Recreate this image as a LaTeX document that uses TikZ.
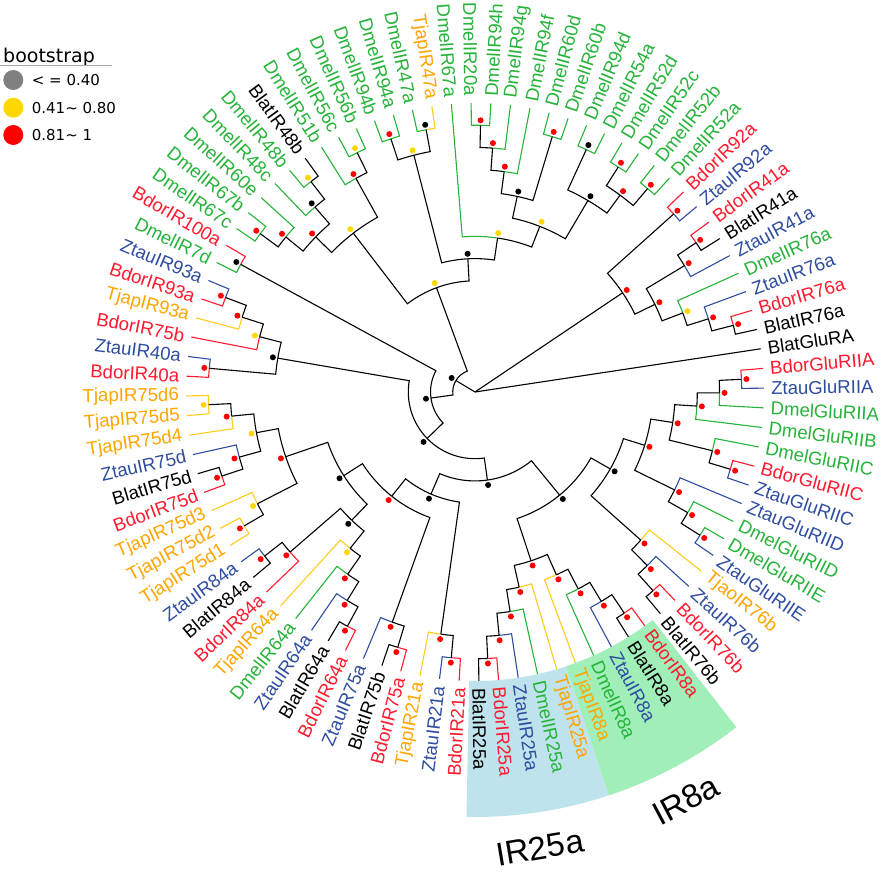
\documentclass[tikz,border=0pt]{standalone}
\usepackage{fontspec}
\setmainfont{Liberation Sans}
\newfontfamily\legfont{DejaVu Sans}
\definecolor{blat}{HTML}{000000}
\definecolor{blatL}{HTML}{000000}
\definecolor{bdor}{HTML}{FF1A2E}
\definecolor{bdorL}{HTML}{FF1A2E}
\definecolor{ztau}{HTML}{2F4DA0}
\definecolor{ztauL}{HTML}{2F4DA0}
\definecolor{dmel}{HTML}{26B33A}
\definecolor{dmelL}{HTML}{26B33A}
\definecolor{tjap}{HTML}{FFA500}
\definecolor{tjapL}{HTML}{FFCC1A}
\definecolor{bslo}{HTML}{000000}
\definecolor{bsmid}{HTML}{FFD700}
\definecolor{bshi}{HTML}{FF0000}
\definecolor{hlblue}{HTML}{BEE3EC}
\definecolor{hlgreen}{HTML}{A0EEB8}
\tikzset{
  edge/.style={line width=1.1pt},
  lbl/.style={inner sep=0pt,font=\fontsize{18.6}{20}\selectfont},
  big/.style={inner sep=0pt,anchor=base,font=\fontsize{33}{36}\selectfont},
  legtxt/.style={inner sep=0pt,font=\legfont\fontsize{15}{17}\selectfont},
}
% leaf: name, index, species
\newcommand\leaf[3]{%
  \pgfmathsetmacro\lfang{8.6+3.913*#2}%
  \expandafter\xdef\csname ang@#1\endcsname{\lfang}%
  \expandafter\xdef\csname rad@#1\endcsname{289}%
  \expandafter\xdef\csname lc@#1\endcsname{#3L}%
  \coordinate (#1) at (\lfang:289);
  \pgfmathtruncatemacro\lfflip{and(\lfang>90,\lfang<270)}%
  \ifnum\lfflip=1
    \node[lbl,text=#3,anchor=east,rotate=\lfang-180] (lab-#1) at (\lfang:296) {#1};
  \else
    \node[lbl,text=#3,anchor=west,rotate=\lfang] (lab-#1) at (\lfang:296) {#1};
  \fi
}
% parent, child
\newcommand\branch[2]{%
  \edef\brcol{\csname lc@#2\endcsname}%
  \draw[edge,color=\brcol] (#1) arc[start angle=\csname ang@#1\endcsname,
    end angle=\csname ang@#2\endcsname, radius=\csname rad@#1\endcsname] -- (#2);
}
% clade: name, height, child, child, bootstrap colour
\newcommand\clade[5]{%
  \pgfmathsetmacro\clang{(\csname ang@#3\endcsname+\csname ang@#4\endcsname)/2}%
  \pgfmathsetmacro\clrad{289-22.23*#2}%
  \pgfmathsetmacro\cldot{\clrad+5}%
  \expandafter\xdef\csname ang@#1\endcsname{\clang}%
  \expandafter\xdef\csname rad@#1\endcsname{\clrad}%
  \expandafter\xdef\csname lc@#1\endcsname{black}%
  \coordinate (#1) at (\clang:\clrad);
  \branch{#1}{#3}\branch{#1}{#4}%
  \fill[#5] (\clang:\cldot) circle (3);
}
\begin{document}
\begin{tikzpicture}[x=1pt,y=1pt]
\useasboundingbox (-475,-480) rectangle (411,392);

% highlighted clades
\fill[hlblue] (268.85:289) arc[start angle=268.85,end angle=288.35,radius=289]
  -- (288.35:425) arc[start angle=288.35,end angle=268.85,radius=425] -- cycle;
\fill[hlgreen] (288.35:289) arc[start angle=288.35,end angle=307.95,radius=289]
  -- (307.95:425) arc[start angle=307.95,end angle=288.35,radius=425] -- cycle;
\node[big,rotate=9.5] (lab25) at (66.7,-467.2) {IR25a};
\node[big,rotate=28] (lab8) at (215.8,-418) {IR8a};

\foreach \n/\s [count=\i from 0] in {BlatGluRA/blat,BlatIR76a/blat,BdorIR76a/bdor,
  ZtauIR76a/ztau,DmelIR76a/dmel,ZtauIR41a/ztau,BlatIR41a/blat,BdorIR41a/bdor,
  ZtauIR92a/ztau,BdorIR92a/bdor,DmelIR52a/dmel,DmelIR52b/dmel,DmelIR52c/dmel,
  DmelIR52d/dmel,DmelIR54a/dmel,DmelIR94d/dmel,DmelIR60b/dmel,DmelIR60d/dmel,
  DmelIR94f/dmel,DmelIR94g/dmel,DmelIR94h/dmel,DmelIR20a/dmel,DmelIR67a/dmel,
  TjapIR47a/tjap,DmelIR47a/dmel,DmelIR94a/dmel,DmelIR94b/dmel,DmelIR56b/dmel,
  DmelIR56c/dmel,DmelIR51b/dmel,BlatIR48b/blat,DmelIR48b/dmel,DmelIR48c/dmel,
  DmelIR60e/dmel,DmelIR67b/dmel,DmelIR67c/dmel,BdorIR100a/bdor,DmelIR7d/dmel,
  ZtauIR93a/ztau,BdorIR93a/bdor,TjapIR93a/tjap,BdorIR75b/bdor,ZtauIR40a/ztau,
  BdorIR40a/bdor,TjapIR75d6/tjap,TjapIR75d5/tjap,TjapIR75d4/tjap,ZtauIR75d/ztau,
  BlatIR75d/blat,BdorIR75d/bdor,TjapIR75d3/tjap,TjapIR75d2/tjap,TjapIR75d1/tjap,
  ZtauIR84a/ztau,BlatIR84a/blat,BdorIR84a/bdor,TjapIR64a/tjap,DmelIR64a/dmel,
  ZtauIR64a/ztau,BlatIR64a/blat,BdorIR64a/bdor,ZtauIR75a/ztau,BlatIR75b/blat,
  BdorIR75a/bdor,TjapIR21a/tjap,ZtauIR21a/ztau,BdorIR21a/bdor,BlatIR25a/blat,
  BdorIR25a/bdor,ZtauIR25a/ztau,DmelIR25a/dmel,TjapIR25a/tjap,TjapIR8a/tjap,
  DmelIR8a/dmel,ZtauIR8a/ztau,BlatIR8a/blat,BdorIR8a/bdor,BlatIR76b/blat,
  BdorIR76b/bdor,ZtauIR76b/ztau,TjaoIR76b/tjap,ZtauGluRIIE/ztau,DmelGluRIIE/dmel,
  DmelGluRIID/dmel,ZtauGluRIID/ztau,ZtauGluRIIC/ztau,BdorGluRIIC/bdor,
  DmelGluRIIC/dmel,DmelGluRIIB/dmel,DmelGluRIIA/dmel,ZtauGluRIIA/ztau,
  BdorGluRIIA/bdor}
  \leaf{\n}{\i}{\s};

% IR76a / IR41a / IR92a
\clade{t76a1}{1}{BlatIR76a}{BdorIR76a}{bshi}
\clade{t76a2}{2}{ZtauIR76a}{t76a1}{bshi}
\clade{t76a3}{3}{DmelIR76a}{t76a2}{bsmid}
\clade{t41a1}{1}{BlatIR41a}{BdorIR41a}{bshi}
\clade{t41a2}{2}{ZtauIR41a}{t41a1}{bshi}
\clade{t4176}{4}{t76a3}{t41a2}{bshi}
\clade{t92a}{1}{ZtauIR92a}{BdorIR92a}{bshi}
\clade{tR}{5}{t4176}{t92a}{bshi}
% Dmel expansions
\clade{t52ab}{1}{DmelIR52a}{DmelIR52b}{bshi}
\clade{t52cd}{1}{DmelIR52c}{DmelIR52d}{bshi}
\clade{t52}{2}{t52ab}{t52cd}{bshi}
\clade{t54}{1}{DmelIR54a}{DmelIR94d}{bslo}
\clade{t5254}{3}{t52}{t54}{bslo}
\clade{t60}{1}{DmelIR60b}{DmelIR60d}{bshi}
\clade{t94a1}{1}{DmelIR94h}{DmelIR20a}{bshi}
\clade{t94a2}{2}{DmelIR94g}{t94a1}{bshi}
\clade{t94a3}{3}{DmelIR94f}{t94a2}{bshi}
\clade{t6094}{4}{t60}{t94a3}{bslo}
\clade{tZ}{5}{t5254}{t6094}{bsmid}
\clade{tY}{6}{tZ}{DmelIR67a}{bsmid}
\clade{t47a}{1}{TjapIR47a}{DmelIR47a}{bslo}
\clade{t94ab}{1}{DmelIR94a}{DmelIR94b}{bshi}
\clade{t47}{2}{t47a}{t94ab}{bsmid}
\clade{tB2}{7}{tY}{t47}{bslo}
\clade{t56}{1}{DmelIR56b}{DmelIR56c}{bsmid}
\clade{t51}{2}{t56}{DmelIR51b}{bshi}
\clade{t48a}{1}{BlatIR48b}{DmelIR48b}{bsmid}
\clade{t48}{2}{t48a}{DmelIR48c}{bslo}
\clade{t67bc}{1}{DmelIR67b}{DmelIR67c}{bshi}
\clade{t60e}{2}{DmelIR60e}{t67bc}{bshi}
\clade{t4867}{3}{t48}{t60e}{bshi}
\clade{tB1}{4}{t51}{t4867}{bsmid}
\clade{tB}{8}{tB2}{tB1}{bsmid}
% IR100a .. IR21a
\clade{t100}{1}{BdorIR100a}{DmelIR7d}{bslo}
\clade{t93a}{1}{ZtauIR93a}{BdorIR93a}{bshi}
\clade{t93b}{2}{t93a}{TjapIR93a}{bshi}
\clade{t93c}{3}{t93b}{BdorIR75b}{bsmid}
\clade{t40}{1}{ZtauIR40a}{BdorIR40a}{bshi}
\clade{tE}{4}{t93c}{t40}{bslo}
\clade{d65}{1}{TjapIR75d6}{TjapIR75d5}{bsmid}
\clade{d654}{2}{d65}{TjapIR75d4}{bshi}
\clade{d75a}{1}{BlatIR75d}{BdorIR75d}{bshi}
\clade{d75b}{2}{ZtauIR75d}{d75a}{bshi}
\clade{d75c}{3}{d654}{d75b}{bsmid}
\clade{d21}{1}{TjapIR75d2}{TjapIR75d1}{bshi}
\clade{d321}{2}{TjapIR75d3}{d21}{bsmid}
\clade{t75d}{4}{d75c}{d321}{bshi}
\clade{t84a}{1}{ZtauIR84a}{BlatIR84a}{bshi}
\clade{t84}{2}{t84a}{BdorIR84a}{bshi}
\clade{t64a}{1}{BlatIR64a}{BdorIR64a}{bshi}
\clade{t64b}{2}{ZtauIR64a}{t64a}{bshi}
\clade{t64c}{3}{DmelIR64a}{t64b}{bshi}
\clade{t64}{4}{TjapIR64a}{t64c}{bsmid}
\clade{tK2}{5}{t84}{t64}{bslo}
\clade{tK}{6}{t75d}{tK2}{bslo}
\clade{t75a1}{1}{BlatIR75b}{BdorIR75a}{bshi}
\clade{t75a}{2}{ZtauIR75a}{t75a1}{bshi}
\clade{tG1}{7}{tK}{t75a}{bshi}
\clade{t21a}{1}{ZtauIR21a}{BdorIR21a}{bshi}
\clade{t21}{2}{TjapIR21a}{t21a}{bshi}
\clade{tG}{8}{tG1}{t21}{bslo}
% IR25a, IR8a, IR76b, GluR
\clade{t25a}{1}{BlatIR25a}{BdorIR25a}{bshi}
\clade{t25b}{2}{t25a}{ZtauIR25a}{bshi}
\clade{t25c}{3}{t25b}{DmelIR25a}{bshi}
\clade{t25}{4}{t25c}{TjapIR25a}{bshi}
\clade{t8a}{1}{BlatIR8a}{BdorIR8a}{bshi}
\clade{t8b}{2}{ZtauIR8a}{t8a}{bshi}
\clade{t8c}{3}{DmelIR8a}{t8b}{bshi}
\clade{t8}{4}{TjapIR8a}{t8c}{bshi}
\clade{t258}{5}{t25}{t8}{bshi}
\clade{t76b1}{1}{BlatIR76b}{BdorIR76b}{bshi}
\clade{t76b2}{2}{t76b1}{ZtauIR76b}{bshi}
\clade{t76b}{3}{t76b2}{TjaoIR76b}{bshi}
\clade{gE1}{1}{ZtauGluRIIE}{DmelGluRIIE}{bshi}
\clade{gE2}{2}{gE1}{DmelGluRIID}{bshi}
\clade{gE}{3}{gE2}{ZtauGluRIID}{bshi}
\clade{gC1}{1}{ZtauGluRIIC}{BdorGluRIIC}{bshi}
\clade{gC}{2}{gC1}{DmelGluRIIC}{bshi}
\clade{gA1}{1}{ZtauGluRIIA}{BdorGluRIIA}{bshi}
\clade{gA2}{2}{DmelGluRIIA}{gA1}{bshi}
\clade{gA3}{3}{DmelGluRIIB}{gA2}{bshi}
\clade{gAC}{4}{gC}{gA3}{bshi}
\clade{tGlu}{5}{gE}{gAC}{bshi}
\clade{tH2}{6}{t76b}{tGlu}{bslo}
\clade{tH}{7}{t258}{tH2}{bslo}
\clade{tF}{9}{tG}{tH}{bslo}
\clade{tD}{10}{tE}{tF}{bslo}
\clade{tC}{11}{t100}{tD}{bslo}
\clade{tA}{12}{tB}{tC}{bslo}
\coordinate (root) at (0,0);
\draw[edge] (root) -- (BlatGluRA);
\draw[edge] (root) -- (tR);
\draw[edge] (root) -- (tA);

% legend
\node[inner sep=0pt,font=\legfont\fontsize{19}{21}\selectfont,anchor=base west] (legtitle) at (-472,329) {bootstrap};
\draw[gray!70,line width=1pt] (-475,326.3) -- (-363,326.3);
\fill[gray] (-461.7,312) circle (10);
\fill[bsmid] (-461.7,284.3) circle (10);
\fill[bshi] (-461.7,257) circle (10);
\node[legtxt,anchor=west] (leglo) at (-443.3,312) {< = 0.40};
\node[legtxt,anchor=west] (legmid) at (-443.3,284.3) {0.41\textasciitilde{} 0.80};
\node[legtxt,anchor=west] (leghi) at (-443.3,257) {0.81\textasciitilde{} 1};
\end{tikzpicture}
\end{document}
